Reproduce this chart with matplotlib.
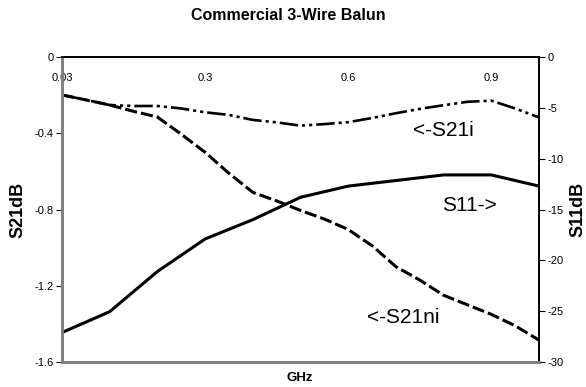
import numpy as np
import matplotlib
matplotlib.use("Agg")
import matplotlib.pyplot as plt

plt.rcParams['font.family'] = ['Liberation Sans', 'DejaVu Sans']

# category axis (Excel line chart): 11 frequency points
freq_labels = ["0.03", "0.1", "0.2", "0.3", "0.4", "0.5", "0.6", "0.7", "0.8", "0.9", "1.0"]
shown_labels = {0: "0.03", 3: "0.3", 6: "0.6", 9: "0.9"}

# S11 (right axis, dB)
s11 = [-27.1, -25.05, -21.1, -17.9, -16.0, -13.8, -12.7, -12.15, -11.6, -11.6, -12.7]

# S21 traces read at half-category steps (left axis, dB)
s21i = [-0.199, -0.225, -0.252, -0.257, -0.257, -0.270, -0.290, -0.304, -0.330, -0.343,
        -0.360, -0.352, -0.342, -0.320, -0.295, -0.272, -0.253, -0.235, -0.229, -0.270, -0.317]
s21ni = [-0.199, -0.225, -0.252, -0.285, -0.315, -0.405, -0.500, -0.610, -0.710, -0.755,
         -0.805, -0.850, -0.905, -0.990, -1.100, -1.170, -1.250, -1.300, -1.350, -1.410, -1.485]

x_cat = np.arange(len(freq_labels))
x_half = np.arange(len(s21i)) / 2.0

fig = plt.figure(figsize=(5.86, 3.87), dpi=100)
ax = fig.add_axes([62 / 586, 25 / 387, 477 / 586, 305 / 387])
ax2 = ax.twinx()

# left axis traces
ax.plot(x_half, s21i, color='black', lw=1.9, dashes=(7, 1.5, 1.2, 1.5, 1.2, 1.5))
ax.plot(x_half, s21ni, color='black', lw=2.2, dashes=(4, 1.3))
# right axis trace
ax2.plot(x_cat, s11, color='black', lw=2.2, solid_joinstyle='miter')

ax.set_xlim(0, 10)
ax.set_ylim(-1.6, 0)
ax2.set_ylim(-30, 0)

ax.set_yticks([0, -0.4, -0.8, -1.2, -1.6])
ax.set_yticklabels(["0", "-0.4", "-0.8", "-1.2", "-1.6"])
ax2.set_yticks([0, -5, -10, -15, -20, -25, -30])
ax2.set_yticklabels(["0", "-5", "-10", "-15", "-20", "-25", "-30"])

# x labels sit just under the top axis line
ax.set_xticks(list(shown_labels.keys()))
ax.set_xticklabels(list(shown_labels.values()))
ax.set_xticks([6], minor=True)
ax.tick_params(axis='x', which='major', top=True, bottom=False, labeltop=True,
               labelbottom=False, length=0, pad=-19, labelsize=8)
ax.tick_params(axis='x', which='minor', top=True, bottom=False, length=4,
               direction='out', width=0.8)
ax.tick_params(axis='y', length=4, width=0.8, labelsize=8, pad=2)
ax2.tick_params(axis='y', length=4, width=0.8, labelsize=8, pad=2)

for a in (ax, ax2):
    a.spines['left'].set_color('#808080')
    a.spines['left'].set_linewidth(2)
    a.spines['bottom'].set_color('#808080')
    a.spines['bottom'].set_linewidth(2)
    a.spines['top'].set_color('black')
    a.spines['top'].set_linewidth(1.2)
    a.spines['right'].set_color('black')
    a.spines['right'].set_linewidth(1.2)

ax.set_ylabel("S21dB", fontsize=13, fontweight='bold', labelpad=6)
ax2.set_ylabel("S11dB", fontsize=13, fontweight='bold', labelpad=4)

ax.text(7.99, -0.383, "<-S21i", fontsize=15, ha='center', va='center')
ax.text(8.55, -0.777, "S11->", fontsize=15, ha='center', va='center')
ax.text(7.15, -1.369, "<-S21ni", fontsize=15, ha='center', va='center')

fig.text(300 / 586, 1 - 378 / 387, "GHz", fontsize=9.5, fontweight='bold',
         ha='center', va='center')
fig.text(288 / 586, 1 - 16 / 387, "Commercial 3-Wire Balun", fontsize=11.5,
         fontweight='bold', ha='center', va='center')

fig.savefig("out.png", dpi=100)
